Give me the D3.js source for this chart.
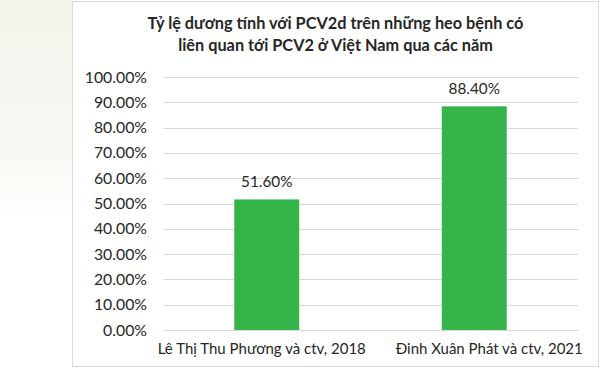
<!DOCTYPE html>
<html><head><meta charset="utf-8">
<script src="https://cdn.jsdelivr.net/npm/d3@7"></script>
<style>body{margin:0;background:#fff}svg{display:block}</style>
</head><body>
<svg id="c" width="600" height="383"></svg>
<script>
const categories = ["Lê Thị Thu Phương và ctv, 2018", "Đinh Xuân Phát và ctv, 2021"];
const values = [51.6, 88.4];
const yTicks = [0, 10, 20, 30, 40, 50, 60, 70, 80, 90, 100];
const titleLines = ["Tỷ lệ dương tính với PCV2d trên những heo bệnh có", "liên quan tới PCV2 ở Việt Nam qua các năm"];
const labelShift = [-5, 15];

const svg = d3.select("#c");
const font = "Lato, 'Open Sans', sans-serif";
const defs = svg.append("defs");
const g = defs.append("linearGradient").attr("id","bg").attr("x1",0).attr("y1",0).attr("x2",0).attr("y2",1);
g.append("stop").attr("offset","0%").attr("stop-color","#f0f4ea");
g.append("stop").attr("offset","40%").attr("stop-color","#f7f9f3");
g.append("stop").attr("offset","58%").attr("stop-color","#ffffff");
svg.append("rect").attr("x",0).attr("y",0).attr("width",72).attr("height",383).attr("fill","url(#bg)");
svg.append("rect").attr("x",72.5).attr("y",1.5).attr("width",526).attr("height",365)
  .attr("fill","#fff").attr("stroke","#d9d9d9").attr("stroke-width",1);

const x = d3.scaleBand().domain(categories).range([163, 578]).paddingInner(0).paddingOuter(0);
const y = d3.scaleLinear().domain([0, 100]).range([330, 77]);
const barW = x.bandwidth() * 0.313;

// gridlines
svg.append("g").selectAll("line").data(yTicks).join("line")
  .attr("x1", 163).attr("x2", 578)
  .attr("y1", d => Math.round(y(d)) + 0.5).attr("y2", d => Math.round(y(d)) + 0.5)
  .attr("stroke", "#d9d9d9").attr("stroke-width", 1);

// y axis labels
const yAxis = d3.axisLeft(y).tickValues(yTicks).tickSize(0).tickPadding(0)
  .tickFormat(d => d3.format(".2f")(d) + "%");
const ya = svg.append("g").attr("transform", "translate(147,0)").call(yAxis);
ya.select(".domain").remove();
ya.selectAll("text").attr("font-family", font).attr("font-size", 15.8).attr("fill", "#262626");

// bars
svg.append("g").selectAll("rect").data(values).join("rect")
  .attr("x", (d, i) => x(categories[i]) + x.bandwidth() / 2 - barW / 2)
  .attr("width", barW)
  .attr("y", d => y(d))
  .attr("height", d => y(0) - y(d))
  .attr("fill", "#35b44a");

// value labels
svg.append("g").selectAll("text").data(values).join("text")
  .attr("x", (d, i) => x(categories[i]) + x.bandwidth() / 2)
  .attr("y", d => y(d) - 12)
  .attr("text-anchor", "middle")
  .attr("font-family", font).attr("font-size", 15.3).attr("fill", "#262626")
  .text(d => d3.format(".2f")(d) + "%");

// category labels
svg.append("g").selectAll("text").data(categories).join("text")
  .attr("x", (d, i) => x(d) + x.bandwidth() / 2 + labelShift[i])
  .attr("y", 354)
  .attr("text-anchor", "middle")
  .attr("font-family", font).attr("font-size", 15).attr("fill", "#262626")
  .text(d => d);

// title
svg.append("g").selectAll("text").data(titleLines).join("text")
  .attr("x", 335.5)
  .attr("y", (d, i) => 29 + i * 21.5)
  .attr("text-anchor", "middle")
  .attr("font-family", font).attr("font-weight", "bold").attr("font-size", 16.3).attr("fill", "#262626")
  .text(d => d);
</script>
</body></html>
